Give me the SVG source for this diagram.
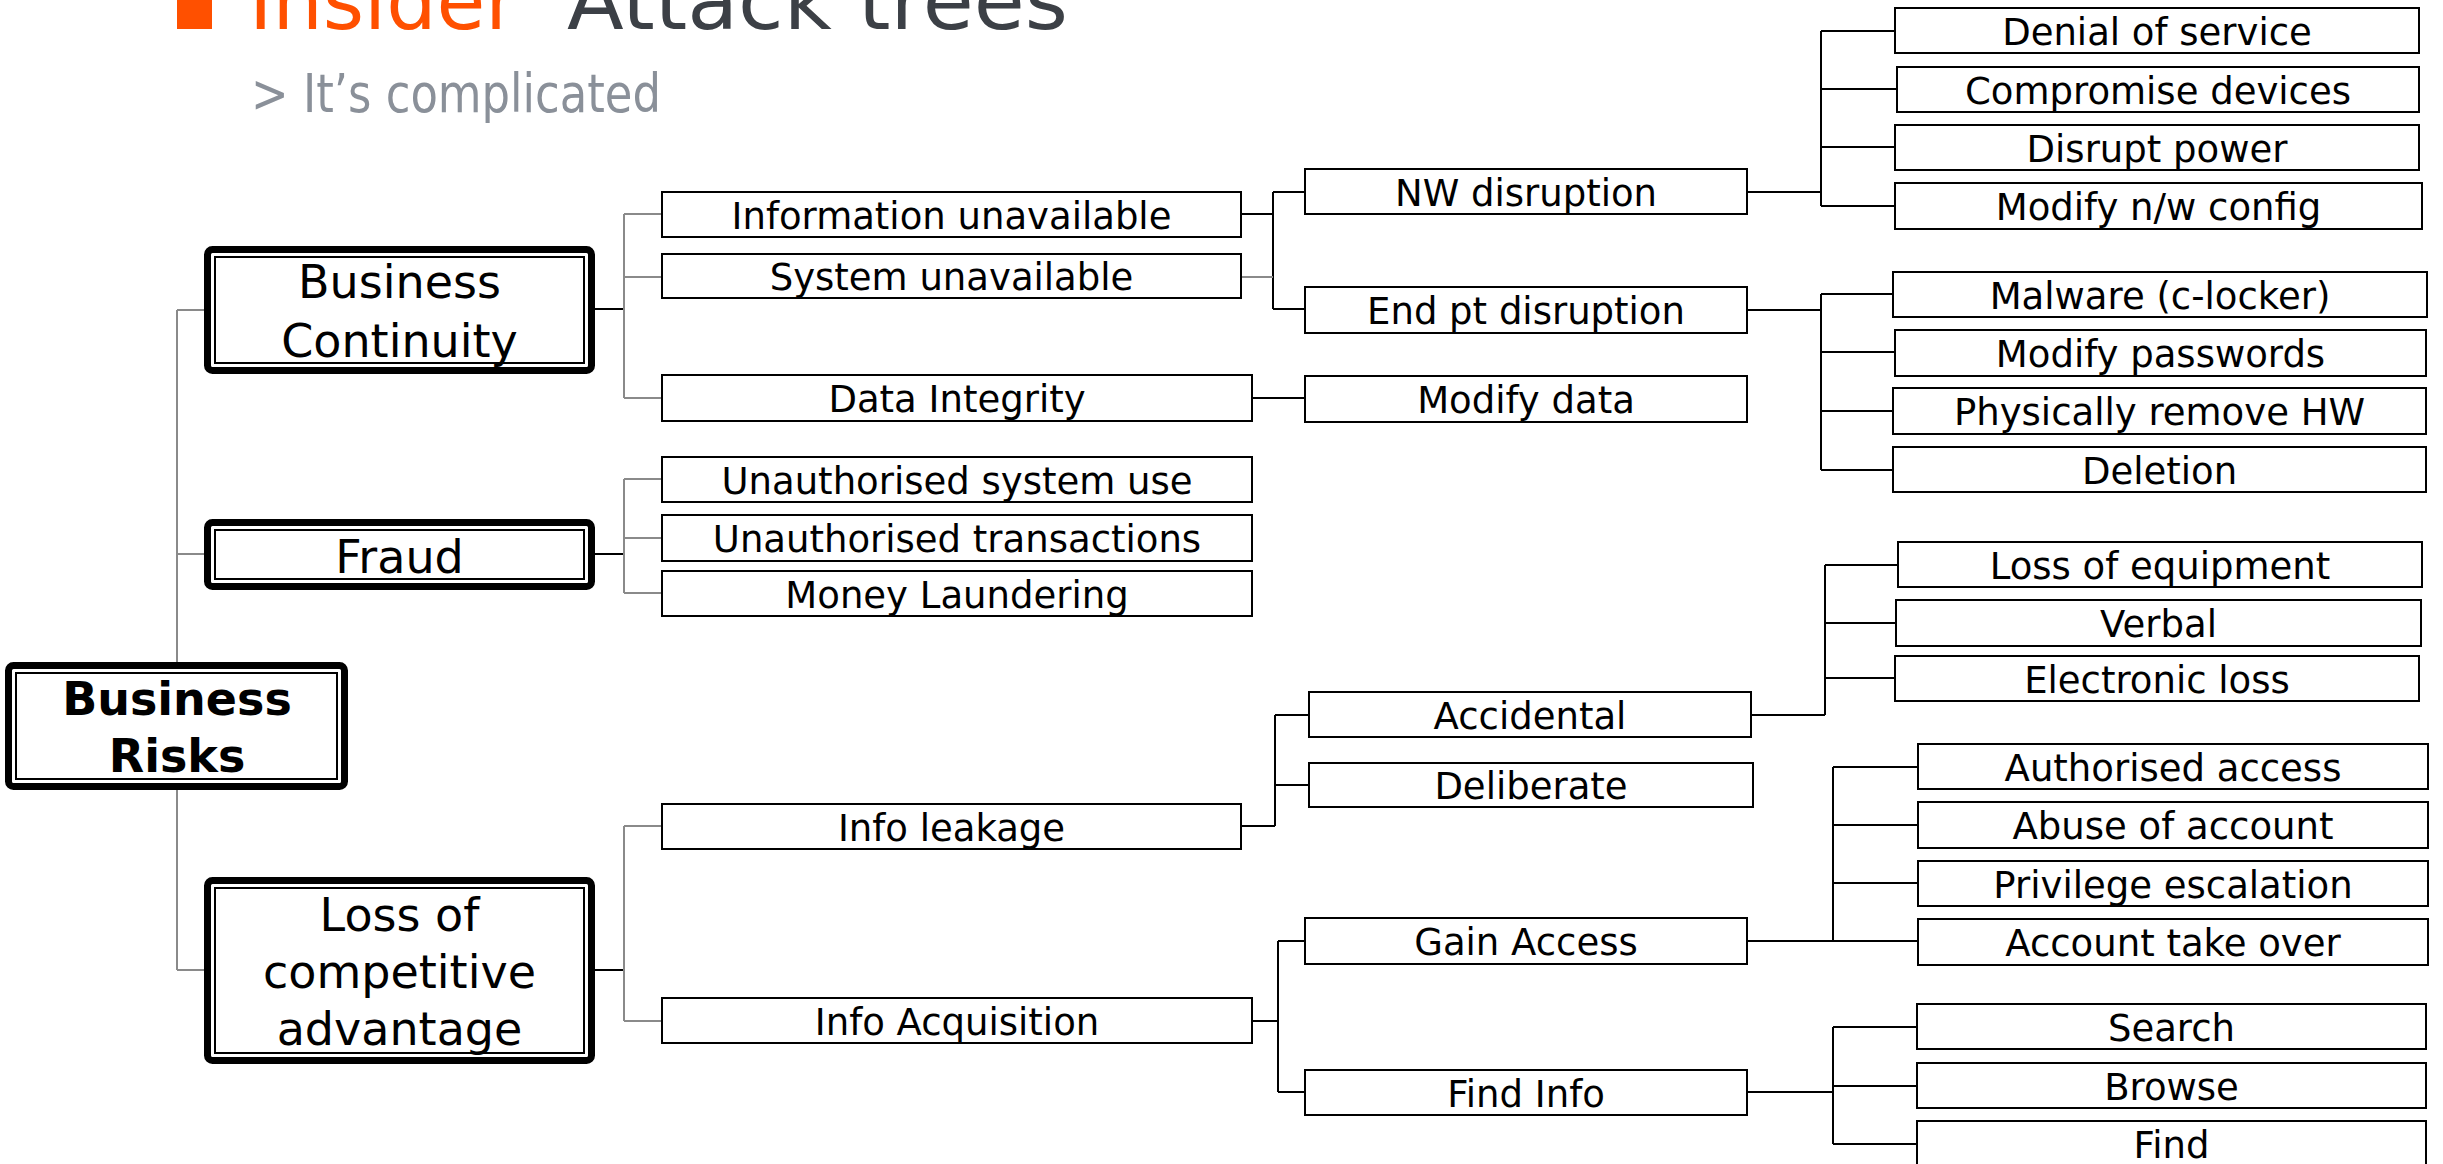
<svg xmlns="http://www.w3.org/2000/svg" width="2443" height="1164" viewBox="0 0 2443 1164">
<style>
text{font-family:"DejaVu Sans","Liberation Sans",sans-serif;fill:#000;}
.t{font-size:37px;text-anchor:middle;}
.b{font-size:46px;text-anchor:middle;}
.rb{font-size:46px;text-anchor:middle;font-weight:bold;}
.box{fill:#fff;stroke:#000;stroke-width:2;}
.outer{fill:#fff;stroke:#000;stroke-width:7;}
.inner{fill:none;stroke:#000;stroke-width:2;}
.g{fill:none;stroke:#8a8a8a;stroke-width:2;}
.k{fill:none;stroke:#000;stroke-width:2;}
</style>
<rect width="2443" height="1164" fill="#fff"/>
<g id="title">
<rect x="177" y="-6" width="35" height="35" fill="#FF5000"/>
<text x="249" y="29" style="font-size:80px;fill:#FF5000" textLength="269" lengthAdjust="spacingAndGlyphs">Insider</text>
<text x="567" y="29" style="font-size:80px;fill:#3C4046" textLength="501" lengthAdjust="spacingAndGlyphs">Attack trees</text>
<text x="251" y="112" style="font-size:54px;fill:#8A9099" textLength="410" lengthAdjust="spacingAndGlyphs">&gt; It’s complicated</text>
</g>
<g id="connectors">
<path class="g" d="M177 310V970M177 310H204M177 554H204M177 970H204"/>
<path class="k" d="M595 309H624M595 554H624M595 970H624"/>
<path class="g" d="M624 214V398M624 214H662M624 277H662M624 398H662"/>
<path class="g" d="M624 479V593M624 479H662M624 538H662M624 593H662"/>
<path class="g" d="M624 826V1021M624 826H662M624 1021H662"/>
<path class="k" d="M1241 214H1273M1273 192V309M1273 192H1305M1273 309H1305"/>
<path class="g" d="M1241 277H1273"/>
<path class="k" d="M1252 398H1305"/>
<path class="k" d="M1747 192H1821M1821 31V206M1821 31H1895M1821 89H1897M1821 147H1895M1821 206H1895"/>
<path class="k" d="M1747 310H1821M1821 294V470M1821 294H1893M1821 352H1895M1821 411H1893M1821 470H1893"/>
<path class="k" d="M1241 826H1275M1275 715V826M1275 715H1309M1275 785H1309"/>
<path class="k" d="M1751 715H1825M1825 565V715M1825 565H1898M1825 623H1896M1825 678H1895"/>
<path class="k" d="M1252 1021H1278M1278 941V1092M1278 941H1305M1278 1092H1305"/>
<path class="k" d="M1747 941H1918M1833 767V941M1833 767H1918M1833 825H1918M1833 883H1918"/>
<path class="k" d="M1747 1092H1833M1833 1027V1144M1833 1027H1917M1833 1086H1917M1833 1144H1917"/>
</g>
<g id="root">
<rect class="outer" x="8.5" y="665.5" width="336" height="121" rx="5"/>
<rect class="inner" x="16" y="673" width="321" height="106"/>
<text class="rb" x="177" y="715">Business</text>
<text class="rb" x="177" y="772">Risks</text>
</g>
<g id="business-continuity">
<rect class="outer" x="207.5" y="249.5" width="384" height="121" rx="5"/>
<rect class="inner" x="215" y="257" width="369" height="106"/>
<text class="b" x="399.5" y="298">Business</text>
<text class="b" x="399.5" y="357">Continuity</text>
</g>
<g id="fraud">
<rect class="outer" x="207.5" y="522.5" width="384" height="64" rx="5"/>
<rect class="inner" x="215" y="530" width="369" height="49"/>
<text class="b" x="399.5" y="573">Fraud</text>
</g>
<g id="loss-competitive">
<rect class="outer" x="207.5" y="880.5" width="384" height="180" rx="5"/>
<rect class="inner" x="215" y="888" width="369" height="165"/>
<text class="b" x="399.5" y="931">Loss of</text>
<text class="b" x="399.5" y="988">competitive</text>
<text class="b" x="399.5" y="1045">advantage</text>
</g>
<g id="info-unavailable"><rect class="box" x="662" y="192" width="579" height="45"/><text class="t" x="951.5" y="229">Information unavailable</text></g>
<g id="system-unavailable"><rect class="box" x="662" y="254" width="579" height="44"/><text class="t" x="951.5" y="290">System unavailable</text></g>
<g id="data-integrity"><rect class="box" x="662" y="375" width="590" height="46"/><text class="t" x="957" y="412">Data Integrity</text></g>
<g id="unauth-system-use"><rect class="box" x="662" y="457" width="590" height="45"/><text class="t" x="957" y="494">Unauthorised system use</text></g>
<g id="unauth-transactions"><rect class="box" x="662" y="515" width="590" height="46"/><text class="t" x="957" y="552">Unauthorised transactions</text></g>
<g id="money-laundering"><rect class="box" x="662" y="571" width="590" height="45"/><text class="t" x="957" y="608">Money Laundering</text></g>
<g id="info-leakage"><rect class="box" x="662" y="804" width="579" height="45"/><text class="t" x="951.5" y="841">Info leakage</text></g>
<g id="info-acquisition"><rect class="box" x="662" y="998" width="590" height="45"/><text class="t" x="957" y="1035">Info Acquisition</text></g>
<g id="nw-disruption"><rect class="box" x="1305" y="169" width="442" height="45"/><text class="t" x="1526" y="206">NW disruption</text></g>
<g id="endpt-disruption"><rect class="box" x="1305" y="287" width="442" height="46"/><text class="t" x="1526" y="324">End pt disruption</text></g>
<g id="modify-data"><rect class="box" x="1305" y="376" width="442" height="46"/><text class="t" x="1526" y="413">Modify data</text></g>
<g id="accidental"><rect class="box" x="1309" y="692" width="442" height="45"/><text class="t" x="1530" y="729">Accidental</text></g>
<g id="deliberate"><rect class="box" x="1309" y="763" width="444" height="44"/><text class="t" x="1531" y="799">Deliberate</text></g>
<g id="gain-access"><rect class="box" x="1305" y="918" width="442" height="46"/><text class="t" x="1526" y="955">Gain Access</text></g>
<g id="find-info"><rect class="box" x="1305" y="1070" width="442" height="45"/><text class="t" x="1526" y="1107">Find Info</text></g>
<g id="denial-of-service"><rect class="box" x="1895" y="8" width="524" height="45"/><text class="t" x="2157" y="45">Denial of service</text></g>
<g id="compromise-devices"><rect class="box" x="1897" y="67" width="522" height="45"/><text class="t" x="2158" y="104">Compromise devices</text></g>
<g id="disrupt-power"><rect class="box" x="1895" y="125" width="524" height="45"/><text class="t" x="2157" y="162">Disrupt power</text></g>
<g id="modify-nw-config"><rect class="box" x="1895" y="183" width="527" height="46"/><text class="t" x="2158.5" y="220">Modify n/w config</text></g>
<g id="malware"><rect class="box" x="1893" y="272" width="534" height="45"/><text class="t" x="2160" y="309">Malware (c-locker)</text></g>
<g id="modify-passwords"><rect class="box" x="1895" y="330" width="531" height="46"/><text class="t" x="2160.5" y="367">Modify passwords</text></g>
<g id="physically-remove-hw"><rect class="box" x="1893" y="388" width="533" height="46"/><text class="t" x="2159.5" y="425">Physically remove HW</text></g>
<g id="deletion"><rect class="box" x="1893" y="447" width="533" height="45"/><text class="t" x="2159.5" y="484">Deletion</text></g>
<g id="loss-of-equipment"><rect class="box" x="1898" y="542" width="524" height="45"/><text class="t" x="2160" y="579">Loss of equipment</text></g>
<g id="verbal"><rect class="box" x="1896" y="600" width="525" height="46"/><text class="t" x="2158.5" y="637">Verbal</text></g>
<g id="electronic-loss"><rect class="box" x="1895" y="656" width="524" height="45"/><text class="t" x="2157" y="693">Electronic loss</text></g>
<g id="authorised-access"><rect class="box" x="1918" y="744" width="510" height="45"/><text class="t" x="2173" y="781">Authorised access</text></g>
<g id="abuse-of-account"><rect class="box" x="1918" y="802" width="510" height="46"/><text class="t" x="2173" y="839">Abuse of account</text></g>
<g id="privilege-escalation"><rect class="box" x="1918" y="861" width="510" height="45"/><text class="t" x="2173" y="898">Privilege escalation</text></g>
<g id="account-take-over"><rect class="box" x="1918" y="919" width="510" height="46"/><text class="t" x="2173" y="956">Account take over</text></g>
<g id="search"><rect class="box" x="1917" y="1004" width="509" height="45"/><text class="t" x="2171.5" y="1041">Search</text></g>
<g id="browse"><rect class="box" x="1917" y="1063" width="509" height="45"/><text class="t" x="2171.5" y="1100">Browse</text></g>
<g id="find"><rect class="box" x="1917" y="1121" width="509" height="46"/><text class="t" x="2171.5" y="1158">Find</text></g>
</svg>
